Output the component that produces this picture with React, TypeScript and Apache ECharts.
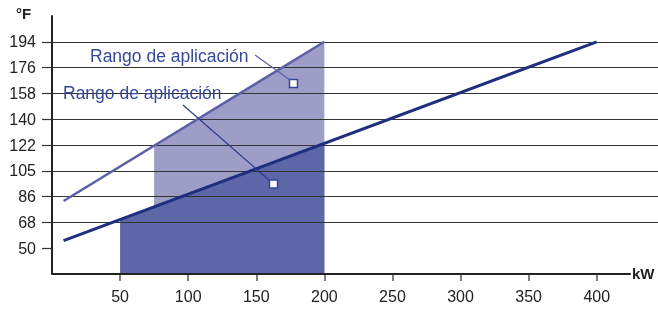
import React, { useEffect, useRef } from "react";
import * as echarts from "echarts";

// Data (temperatures stored in °C, labelled in °F; x in kW)
const yTickValues = [10, 20, 30, 40, 50, 60, 70, 80, 90];
const yTickLabels = ["50", "68", "86", "105", "122", "140", "158", "176", "194"];
const xTickValues = [50, 100, 150, 200, 250, 300, 350, 400];

const lowerLine = [[8.5, 12.9], [400, 90]];
const upperLine = [[8.5, 28.3], [200, 90]];
const darkArea = [[50, 21.1], [200, 50.7]];
const lightArea = [[75, 49.7], [200, 90]];
const axisEnd = [[0, 0], [425, 0]];

const annotationText = "Rango de aplicación";

const FONT = "'Liberation Sans', Arial, Helvetica, sans-serif";
const TEXT_BLUE = "#34489b";

export default function App() {
  const ref = useRef<HTMLDivElement>(null);
  useEffect(() => {
    if (!ref.current) return;
    const chart = echarts.init(ref.current, null, { renderer: "svg" });
    const gridColors = yTickValues.map(() => "#333333");
    const splitColors = ["transparent", ...gridColors, "#444444"];
    chart.setOption({
      animation: false,
      grid: { left: 52, top: 16, bottom: 36, right: 0 },
      xAxis: {
        type: "value",
        min: 0,
        max: 445,
        interval: 50,
        axisLine: { show: false },
        splitLine: { show: false },
        axisTick: {
          show: true,
          customValues: xTickValues,
          length: 7,
          lineStyle: { color: "#555", width: 1.5 },
        },
        axisLabel: {
          customValues: xTickValues,
          margin: 14,
          fontSize: 16,
          fontFamily: FONT,
          color: "#222",
        },
      },
      yAxis: {
        type: "value",
        min: 0,
        max: 100,
        interval: 10,
        z: 3,
        axisLine: { show: true, lineStyle: { color: "#222", width: 2 } },
        splitLine: { show: true, lineStyle: { color: splitColors, width: 1.2 } },
        axisTick: {
          show: true,
          customValues: yTickValues,
          length: 10,
          lineStyle: { color: "#333", width: 1.2 },
        },
        axisLabel: {
          customValues: yTickValues,
          margin: 16,
          fontSize: 16,
          fontFamily: FONT,
          color: "#222",
          formatter: (v: number) => {
            const i = yTickValues.indexOf(v);
            return i >= 0 ? yTickLabels[i] : "";
          },
        },
      },
      series: [
        {
          type: "line",
          data: lightArea,
          z: 1,
          symbol: "none",
          lineStyle: { width: 0 },
          areaStyle: { color: "#9d9dc8", opacity: 1 },
        },
        {
          type: "line",
          data: darkArea,
          z: 2,
          symbol: "none",
          lineStyle: { width: 0 },
          areaStyle: { color: "#5d66a6", opacity: 1 },
        },
        {
          type: "line",
          data: upperLine,
          z: 4,
          symbol: "none",
          lineStyle: { color: "#5c60a6", width: 2.5 },
        },
        {
          type: "line",
          data: lowerLine,
          z: 5,
          symbol: "none",
          lineStyle: { color: "#1f2f80", width: 3 },
          markLine: {
            silent: true,
            symbol: "none",
            label: { show: false },
            lineStyle: { color: "#222", width: 2, type: "solid" },
            data: [[{ coord: axisEnd[0] }, { coord: axisEnd[1] }]],
          },
        },
      ],
      graphic: [
        {
          type: "text",
          left: 16,
          top: 6,
          style: { text: "°F", font: `bold 15px ${FONT}`, fill: "#222" },
        },
        {
          type: "text",
          x: 632,
          y: 273,
          style: {
            text: "kW",
            font: `bold 15px ${FONT}`,
            fill: "#222",
            verticalAlign: "middle",
          },
        },
        {
          type: "text",
          x: 90,
          y: 56,
          z: 10,
          style: {
            text: annotationText,
            font: `17.5px ${FONT}`,
            fill: TEXT_BLUE,
            verticalAlign: "middle",
          },
        },
        {
          type: "text",
          x: 63,
          y: 93,
          z: 10,
          style: {
            text: annotationText,
            font: `17.5px ${FONT}`,
            fill: TEXT_BLUE,
            verticalAlign: "middle",
          },
        },
        {
          type: "line",
          z: 10,
          shape: { x1: 255, y1: 55, x2: 290, y2: 80 },
          style: { stroke: "#5a60a8", lineWidth: 1.2 },
        },
        {
          type: "line",
          z: 10,
          shape: { x1: 183, y1: 105, x2: 270, y2: 181 },
          style: { stroke: "#2a3a8a", lineWidth: 1.2 },
        },
        {
          type: "rect",
          z: 11,
          shape: { x: 289.5, y: 79.5, width: 8, height: 8 },
          style: { fill: "#fff", stroke: TEXT_BLUE, lineWidth: 1.5 },
        },
        {
          type: "rect",
          z: 11,
          shape: { x: 269.5, y: 180, width: 8, height: 8 },
          style: { fill: "#fff", stroke: TEXT_BLUE, lineWidth: 1.5 },
        },
      ],
    });
    return () => chart.dispose();
  }, []);
  return <div ref={ref} style={{ width: 658, height: 310, position: "fixed", left: 0, top: 0 }} />;
}
